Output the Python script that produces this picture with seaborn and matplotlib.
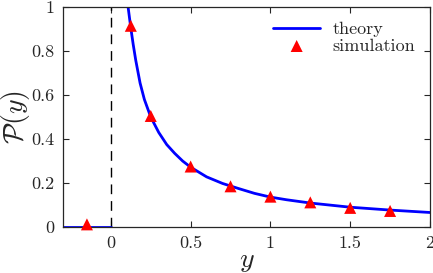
"""
Distribution P(y): theory curve vs simulation points.
"""

import numpy as np
import pandas as pd
import seaborn as sns
import matplotlib.pyplot as plt
from matplotlib.ticker import FuncFormatter

# theory curve
theory_x = [0.108, 0.125, 0.14, 0.156, 0.183, 0.21, 0.25, 0.3, 0.35, 0.4,
            0.45, 0.5, 0.6, 0.7, 0.8, 0.9, 1.0, 1.1, 1.25, 1.5, 1.75, 2.0]
theory_p = [1.0, 0.905, 0.83, 0.758, 0.655, 0.58, 0.5, 0.43, 0.375, 0.335,
            0.3, 0.272, 0.228, 0.198, 0.175, 0.153, 0.136, 0.124, 0.109,
            0.09, 0.077, 0.066]
# zero branch for y < 0
zero_x = [-0.3, 0.0]
zero_p = [0.0, 0.0]

# simulation points
sim_x = [-0.15, 0.125, 0.25, 0.5, 0.75, 1.0, 1.25, 1.5, 1.75]
sim_p = [0.012, 0.915, 0.505, 0.275, 0.185, 0.138, 0.112, 0.087, 0.073]

x_ticks = [0, 0.5, 1, 1.5, 2]
y_ticks = [0, 0.2, 0.4, 0.6, 0.8, 1]

sns.set_style("ticks")
plt.rcParams['font.family'] = ['cmr10', 'DejaVu Serif']
plt.rcParams['mathtext.fontset'] = 'cm'
plt.rcParams['axes.formatter.use_mathtext'] = True

theory = pd.DataFrame({"y": theory_x, "P": theory_p})
zero = pd.DataFrame({"y": zero_x, "P": zero_p})
sim = pd.DataFrame({"y": sim_x, "P": sim_p})

fig = plt.figure(figsize=(4.33, 2.73), dpi=100)
ax = fig.add_axes([0.1455, 0.1685, 0.8475, 0.8055])

ax.axvline(0, color='black', lw=1.0, ls=(0, (7, 5)), zorder=1)
sns.lineplot(data=zero, x="y", y="P", color='blue', lw=2, ax=ax)
sns.lineplot(data=theory, x="y", y="P", color='blue', lw=2,
             label="theory", ax=ax)
sns.scatterplot(data=sim, x="y", y="P", marker='^', color='red', s=75,
                edgecolor='none', label="simulation", ax=ax, zorder=3,
                clip_on=False)

ax.set_xlim(-0.3, 2)
ax.set_ylim(0, 1)
ax.set_xticks(x_ticks)
ax.set_yticks(y_ticks)
fmt = FuncFormatter(lambda v, _: f"{v:g}")
ax.xaxis.set_major_formatter(fmt)
ax.yaxis.set_major_formatter(fmt)
ax.tick_params(direction='in', top=True, right=True, labelsize=13,
               length=4, width=0.8, pad=6)
for s in ax.spines.values():
    s.set_linewidth(0.9)

ax.set_xlabel("$y$", fontsize=20, labelpad=-2)
ax.set_ylabel(r"$\mathcal{P}(y)$", fontsize=20, labelpad=0)

ax.legend(loc='upper right', frameon=False, fontsize=13, handlelength=2.6,
          handletextpad=0.7, labelspacing=0.05, borderaxespad=0.4,
          bbox_to_anchor=(1, 1))

fig.savefig("out.png", dpi=100)
